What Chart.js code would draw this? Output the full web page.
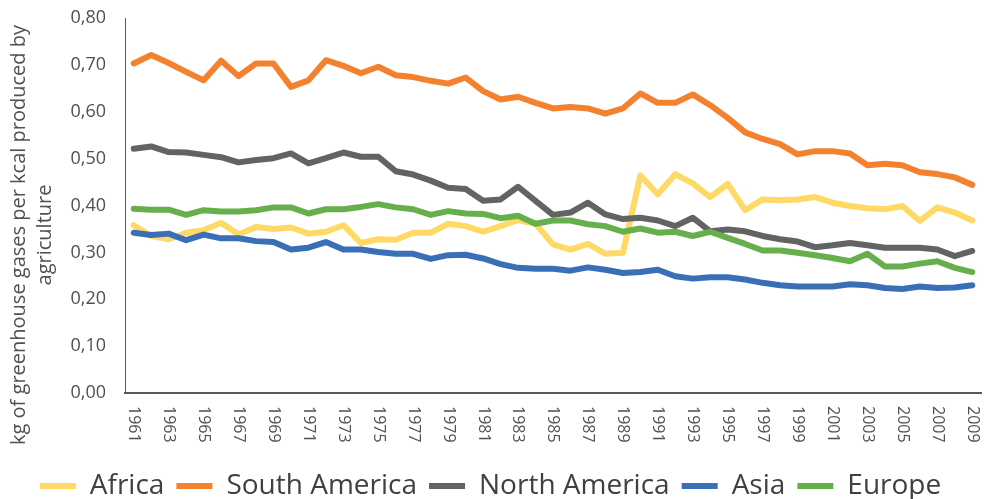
<!DOCTYPE html>
<html>
<head>
<meta charset="utf-8">
<script src="https://cdn.jsdelivr.net/npm/chart.js@4/dist/chart.umd.min.js"></script>
<style>
  html, body { margin: 0; padding: 0; background: #fff; }
  #wrap { width: 988px; height: 499px; }
</style>
</head>
<body>
<div id="wrap"><canvas id="myChart"></canvas></div>
<script>
const years = ['1961','1962','1963','1964','1965','1966','1967','1968','1969','1970',
  '1971','1972','1973','1974','1975','1976','1977','1978','1979','1980',
  '1981','1982','1983','1984','1985','1986','1987','1988','1989','1990',
  '1991','1992','1993','1994','1995','1996','1997','1998','1999','2000',
  '2001','2002','2003','2004','2005','2006','2007','2008','2009'];

const africa = [0.358,0.335,0.328,0.342,0.347,0.363,0.338,0.354,0.350,0.353,0.340,0.344,0.358,0.320,0.328,0.327,0.342,
  0.342,0.361,0.356,0.344,0.356,0.369,0.361,0.317,0.306,0.318,0.297,0.299,0.464,0.424,0.467,0.447,
  0.418,0.446,0.390,0.413,0.411,0.413,0.418,0.406,0.399,0.394,0.392,0.399,0.367,0.396,0.385,0.368];
const southAmerica = [0.703,0.721,0.704,0.685,0.667,0.709,0.676,0.703,0.703,0.653,0.667,0.710,0.698,0.682,0.696,0.678,0.674,
  0.666,0.660,0.673,0.644,0.626,0.632,0.619,0.607,0.610,0.607,0.596,0.607,0.639,0.619,0.619,0.637,
  0.614,0.587,0.556,0.542,0.531,0.509,0.516,0.516,0.511,0.486,0.489,0.486,0.471,0.467,0.460,0.444];
const northAmerica = [0.521,0.526,0.514,0.513,0.508,0.503,0.492,0.497,0.501,0.511,0.490,0.501,0.513,0.504,0.504,0.473,0.466,
  0.453,0.438,0.435,0.410,0.413,0.440,0.410,0.380,0.385,0.406,0.381,0.371,0.374,0.368,0.356,0.374,
  0.345,0.349,0.345,0.335,0.328,0.323,0.311,0.315,0.320,0.315,0.310,0.310,0.310,0.306,0.292,0.303];
const asia = [0.342,0.337,0.340,0.326,0.338,0.330,0.330,0.324,0.322,0.306,0.310,0.322,0.306,0.306,0.301,0.297,0.297,
  0.286,0.294,0.295,0.287,0.275,0.267,0.265,0.265,0.261,0.268,0.263,0.256,0.258,0.263,0.249,0.244,
  0.247,0.247,0.242,0.235,0.230,0.227,0.227,0.227,0.232,0.230,0.224,0.222,0.227,0.224,0.225,0.230];
const europe = [0.393,0.391,0.391,0.380,0.390,0.387,0.387,0.390,0.396,0.396,0.383,0.392,0.392,0.397,0.403,0.396,0.392,
  0.380,0.388,0.383,0.382,0.373,0.378,0.361,0.368,0.368,0.360,0.356,0.344,0.351,0.342,0.344,0.335,
  0.344,0.331,0.318,0.304,0.304,0.299,0.294,0.288,0.281,0.297,0.270,0.270,0.276,0.281,0.267,0.258];

const yTitle = ['kg of greenhouse gases per kcal produced by', 'agriculture'];
const FONT = '"Open Sans", "DejaVu Sans", sans-serif';
const TEXT = '#505050';

// ligne par série
function serie(label, data, color, order) {
    return {
        label: label,
        data: data,
        borderColor: color,
        backgroundColor: color,
        borderWidth: 6,
        borderCapStyle: 'round',
        borderJoinStyle: 'round',
        pointRadius: 0,
        tension: 0,
        fill: false,
        order: order
    };
}

// titre de l'axe Y et étiquettes des années (rotation horaire comme Excel)
const textPlugin = {
    id: 'textPlugin',
    afterDraw(chart) {
        const ctx = chart.ctx;
        const area = chart.chartArea;
        const xs = chart.scales.x;
        ctx.save();
        ctx.fillStyle = TEXT;
        ctx.font = '16px ' + FONT;
        ctx.textAlign = 'left';
        ctx.textBaseline = 'middle';
        years.forEach((y, i) => {
            if (i % 2 !== 0) return;
            const px = xs.getPixelForValue(i);
            ctx.save();
            ctx.translate(px, area.bottom + 13);
            ctx.rotate(Math.PI / 2);
            ctx.fillText(y, 0, 0);
            ctx.restore();
        });
        ctx.font = '20px ' + FONT;
        ctx.textAlign = 'center';
        ctx.translate(0, 235);
        ctx.rotate(-Math.PI / 2);
        ctx.fillText(yTitle[0], 0, 19);
        ctx.fillText(yTitle[1], 0, 45);
        ctx.restore();
    }
};

const ctx = document.getElementById('myChart').getContext('2d');
const myChart = new Chart(ctx, {
    type: 'line',
    data: {
        labels: years,
        datasets: [
            serie('Africa', africa, '#FFD966', 5),
            serie('South America', southAmerica, '#F4812E', 4),
            serie('North America', northAmerica, '#636363', 3),
            serie('Asia', asia, '#3A6EB7', 2),
            serie('Europe', europe, '#66AF4C', 1)
        ]
    },
    options: {
        responsive: true,
        maintainAspectRatio: false,
        animation: false,
        layout: { padding: { left: 0, top: 18, right: 7, bottom: -11 } },
        plugins: {
            legend: {
                position: 'bottom',
                labels: {
                    color: '#404040',
                    font: { family: FONT, size: 28 },
                    boxWidth: 36,
                    padding: 12,
                    usePointStyle: true,
                    pointStyle: 'line',
                    pointStyleWidth: 36,
                    sort: (a, b) => a.datasetIndex - b.datasetIndex
                }
            },
            tooltip: { enabled: false },
            title: { display: false }
        },
        scales: {
            x: {
                offset: true,
                grid: { display: false, drawTicks: false },
                border: { display: true, color: '#595959', width: 2 },
                ticks: { display: false },
                afterFit(scale) { scale.height = 67; }
            },
            y: {
                min: 0,
                max: 0.8,
                grid: { display: false, drawTicks: false },
                border: { display: true, color: '#595959', width: 1 },
                ticks: {
                    stepSize: 0.1,
                    padding: 19,
                    color: TEXT,
                    font: { family: FONT, size: 18 },
                    callback: v => v.toFixed(2).replace('.', ',')
                },
                afterFit(scale) {
                    scale.width = 125;
                    scale.paddingTop = 0;
                    scale.paddingBottom = 0;
                }
            }
        }
    },
    plugins: [textPlugin]
});
</script>
</body>
</html>
